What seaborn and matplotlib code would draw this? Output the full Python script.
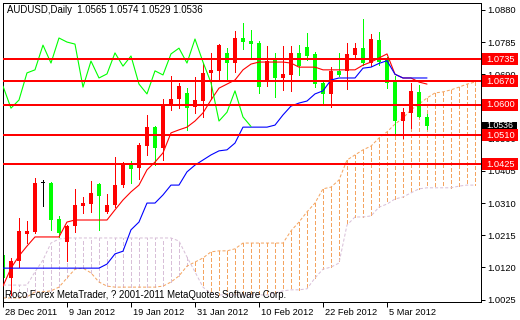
import numpy as np
import matplotlib
matplotlib.use("Agg")
import matplotlib.pyplot as plt
import seaborn as sns
from matplotlib.patches import Rectangle
from matplotlib.transforms import blended_transform_factory, ScaledTranslation

sns.set_style("white")
plt.rcParams['font.family'] = ['Liberation Sans', 'DejaVu Sans']
plt.rcParams['lines.scale_dashes'] = False

# ---------------- data ----------------
x_tick_pos = [0, 8, 16, 24, 32, 40, 48]
x_tick_labels = ['28 Dec 2011', '9 Jan 2012', '19 Jan 2012', '31 Jan 2012',
                 '10 Feb 2012', '22 Feb 2012', '5 Mar 2012']
y_ticks = [1.0880, 1.0785, 1.0690, 1.0595, 1.0500, 1.0405, 1.0310, 1.0215, 1.0120, 1.0025]
y_tick_labels = ['1.0880', '1.0785', '1.0690', '', '1.0500', '1.0405', '1.0310',
                 '1.0215', '1.0120', '1.0025']

open_ = [1.0157, 1.0089, 1.0139, 1.0219, 1.0225, 1.0370, 1.0370, 1.0263, 1.0195, 1.0242,
         1.0301, 1.0307, 1.0366, 1.0284, 1.0304, 1.0363, 1.0425, 1.0413, 1.0478, 1.0535,
         1.0473, 1.0599, 1.0617, 1.0635, 1.0593, 1.0611, 1.0694, 1.0700, 1.0753, 1.0723,
         1.0797, 1.0788, 1.0782, 1.0670, 1.0735, 1.0679, 1.0688, 1.0753, 1.0770, 1.0750,
         1.0665, 1.0632, 1.0700, 1.0700, 1.0747, 1.0767, 1.0723, 1.0791, 1.0738, 1.0667,
         1.0552, 1.0576, 1.0638, 1.0565]
high = [1.0201, 1.0148, 1.0266, 1.0257, 1.0384, 1.0378, 1.0372, 1.0272, 1.0245, 1.0351,
        1.0328, 1.0376, 1.0370, 1.0336, 1.0447, 1.0432, 1.0434, 1.0487, 1.0570, 1.0537,
        1.0617, 1.0685, 1.0665, 1.0649, 1.0681, 1.0723, 1.0753, 1.0779, 1.0767, 1.0818,
        1.0841, 1.0821, 1.0788, 1.0773, 1.0753, 1.0773, 1.0773, 1.0776, 1.0813, 1.0756,
        1.0670, 1.0712, 1.0753, 1.0782, 1.0782, 1.0853, 1.0809, 1.0815, 1.0741, 1.0685,
        1.0590, 1.0665, 1.0658, 1.0574]
low = [1.0074, 1.0039, 1.0121, 1.0192, 1.0222, 1.0300, 1.0231, 1.0210, 1.0139, 1.0225,
       1.0280, 1.0284, 1.0231, 1.0280, 1.0298, 1.0357, 1.0369, 1.0381, 1.0452, 1.0422,
       1.0437, 1.0585, 1.0590, 1.0526, 1.0576, 1.0564, 1.0617, 1.0673, 1.0676, 1.0697,
       1.0765, 1.0737, 1.0634, 1.0655, 1.0623, 1.0644, 1.0641, 1.0687, 1.0732, 1.0653,
       1.0605, 1.0594, 1.0685, 1.0646, 1.0738, 1.0717, 1.0714, 1.0717, 1.0650, 1.0517,
       1.0502, 1.0531, 1.0563, 1.0529]
close = [1.0089, 1.0139, 1.0228, 1.0228, 1.0370, 1.0370, 1.0260, 1.0222, 1.0242, 1.0304,
         1.0310, 1.0340, 1.0331, 1.0304, 1.0363, 1.0426, 1.0411, 1.0481, 1.0535, 1.0473,
         1.0599, 1.0617, 1.0655, 1.0590, 1.0614, 1.0694, 1.0703, 1.0776, 1.0723, 1.0797,
         1.0785, 1.0779, 1.0652, 1.0729, 1.0679, 1.0691, 1.0753, 1.0714, 1.0744, 1.0661,
         1.0632, 1.0700, 1.0688, 1.0750, 1.0767, 1.0723, 1.0794, 1.0726, 1.0665, 1.0552,
         1.0578, 1.0641, 1.0564, 1.0536]

tenkan = [1.0065, 1.0118, 1.0154, 1.0183, 1.0210, 1.0210, 1.0210, 1.0210, 1.0254, 1.0260,
          1.0260, 1.0260, 1.0260, 1.0260, 1.0290, 1.0319, 1.0343, 1.0363, 1.0408, 1.0431,
          1.0458, 1.0517, 1.0526, 1.0534, 1.0552, 1.0576, 1.0614, 1.0649, 1.0661, 1.0673,
          1.0703, 1.0720, 1.0726, 1.0726, 1.0726, 1.0726, 1.0723, 1.0711, 1.0711, 1.0711,
          1.0703, 1.0703, 1.0703, 1.0703, 1.0703, 1.0717, 1.0726, 1.0738, 1.0750, 1.0690,
          1.0679, 1.0679, 1.0667, 1.0661]
kijun = [1.0118, 1.0118, 1.0118, 1.0118, 1.0118, 1.0118, 1.0118, 1.0118, 1.0118, 1.0118,
         1.0118, 1.0118, 1.0118, 1.0130, 1.0160, 1.0168, 1.0231, 1.0254, 1.0310, 1.0310,
         1.0334, 1.0363, 1.0363, 1.0402, 1.0422, 1.0437, 1.0452, 1.0464, 1.0467, 1.0487,
         1.0534, 1.0534, 1.0534, 1.0534, 1.0540, 1.0570, 1.0596, 1.0605, 1.0611, 1.0632,
         1.0641, 1.0673, 1.0679, 1.0679, 1.0679, 1.0708, 1.0711, 1.0722, 1.0730, 1.0690,
         1.0679, 1.0679, 1.0679, 1.0679]
senkou_a = [1.0030, 1.0030, 1.0030, 1.0033, 1.0048, 1.0048, 1.0051, 1.0062, 1.0089, 1.0115,
            1.0118, 1.0104, 1.0077, 1.0065, 1.0062, 1.0062, 1.0062, 1.0062, 1.0062, 1.0062,
            1.0065, 1.0077, 1.0095, 1.0124, 1.0136, 1.0148, 1.0166, 1.0169, 1.0169, 1.0175,
            1.0192, 1.0192, 1.0192, 1.0192, 1.0192, 1.0192, 1.0228, 1.0254, 1.0284, 1.0310,
            1.0352, 1.0357, 1.0378, 1.0437, 1.0452, 1.0467, 1.0478, 1.0502, 1.0520, 1.0543,
            1.0561, 1.0585, 1.0602, 1.0620, 1.0635, 1.0638, 1.0644, 1.0652, 1.0661, 1.0667]
senkou_b = [1.0068, 1.0068, 1.0068, 1.0068, 1.0107, 1.0142, 1.0192, 1.0204, 1.0207, 1.0207,
            1.0207, 1.0207, 1.0207, 1.0207, 1.0207, 1.0207, 1.0207, 1.0207, 1.0207, 1.0207,
            1.0207, 1.0207, 1.0198, 1.0151, 1.0107, 1.0062, 1.0042, 1.0039, 1.0039, 1.0039,
            1.0039, 1.0039, 1.0039, 1.0039, 1.0045, 1.0051, 1.0054, 1.0054, 1.0057, 1.0089,
            1.0115, 1.0121, 1.0133, 1.0245, 1.0269, 1.0269, 1.0272, 1.0298, 1.0307, 1.0322,
            1.0328, 1.0340, 1.0352, 1.0355, 1.0355, 1.0355, 1.0355, 1.0360, 1.0363, 1.0363]
chikou_shift = 22

levels = [1.0735, 1.0670, 1.0600, 1.0510, 1.0425]
last_price = 1.0536
title_text = "AUDUSD,Daily  1.0565 1.0574 1.0529 1.0536"
footer_text = "Roco Forex MetaTrader, ? 2001-2011 MetaQuotes Software Corp."

# ---------------- figure ----------------
W, H = 520, 320
fig = plt.figure(figsize=(W / 100, H / 100), dpi=100)
fig.patch.set_facecolor('white')
ax_l, ax_r, ax_t, ax_b = 2.5, 481.0, 2.5, 302.0
ax = fig.add_axes([ax_l / W, 1 - ax_b / H, (ax_r - ax_l) / W, (ax_b - ax_t) / H])
ax.set_facecolor('white')

o = np.array(open_); h = np.array(high); l = np.array(low); c = np.array(close)
idx = np.arange(len(o))
cidx = np.arange(len(senkou_a))
sa = np.array(senkou_a); sb = np.array(senkou_b)

RED, LIME, BLUE = '#FF0000', '#00FF00', '#0000FF'
ORANGE, THISTLE = '#F4A460', '#D8BFD8'
px = 0.72
thin = 0.5
dash = (0, (2.2, 1.45))

# cloud hatch (crisp 1px vertical dashed lines)
vcols = [ORANGE if a > b else THISTLE for a, b in zip(sa, sb)]
ax.vlines(cidx, sa, sb, colors=vcols, linestyles=[dash] * len(cidx), lw=thin,
          zorder=1, antialiased=False)
for yy, col in ((sa, ORANGE), (sb, THISTLE)):
    sns.lineplot(x=cidx, y=yy, color=col, lw=px, ax=ax, errorbar=None, zorder=1.2)
    ax.lines[-1].set_linestyle(dash)

# candles
ccols = [RED if cc > oo else (LIME if cc < oo else 'black') for oo, cc in zip(o, c)]
ax.vlines(idx, l, h, colors=ccols, lw=thin, zorder=2, antialiased=False)
body_h = np.maximum(np.abs(c - o), 0.0003)
ax.bar(idx, body_h, bottom=np.minimum(o, c), width=0.62, color=ccols, linewidth=0, zorder=2.5)

# ichimoku lines
for xx, yy, col in ((idx, tenkan, RED), (idx, kijun, BLUE),
                    (idx[:len(c) - chikou_shift], c[chikou_shift:], LIME)):
    sns.lineplot(x=xx, y=yy, color=col, lw=0.8, ax=ax, errorbar=None, zorder=3)

for lv in levels:
    ax.axhline(lv, color=RED, lw=1.44, zorder=4, antialiased=False)

ax.set_xlim(-0.06, 59.75)
ax.set_ylim(1.00181, 1.09017)

# axes styling
for s in ax.spines.values():
    s.set_color('black'); s.set_linewidth(px); s.set_visible(True)
ax.yaxis.tick_right()
ax.set_yticks(y_ticks)
ax.set_yticklabels(y_tick_labels)
ax.set_xticks(x_tick_pos)
ax.set_xticklabels(x_tick_labels)
ax.tick_params(axis='y', which='both', right=True, left=False, direction='out', length=3,
               width=px, pad=1.2, labelsize=6.7, colors='black')
ax.tick_params(axis='x', which='both', bottom=True, direction='out', length=3.5,
               width=px, pad=0.6, labelsize=6.7, colors='black')
off = ScaledTranslation(2 / 100, 0, fig.dpi_scale_trans)
for lab in ax.get_xticklabels():
    lab.set_horizontalalignment('left')
    lab.set_transform(lab.get_transform() + off)
ax.set_xlabel(''); ax.set_ylabel('')
ax.grid(False)

# right side price labels
bt = blended_transform_factory(ax.transAxes, ax.transData)
x0 = (481.7 - ax_l) / (ax_r - ax_l)
bw = (518.0 - 481.7) / (ax_r - ax_l)
tx = (486.0 - ax_l) / (ax_r - ax_l)
bh = 12 * 0.000295
ax.add_patch(Rectangle((x0, last_price - 0.4 * bh), bw * 0.96, 0.8 * bh,
                       transform=bt, facecolor='black', edgecolor='none', clip_on=False, zorder=5))
ax.text(tx, last_price + 0.0003, f"{last_price:.4f}", transform=bt, color='white', fontsize=6.3,
        ha='left', va='center', clip_on=False, zorder=6)
for lv in levels:
    ax.add_patch(Rectangle((x0, lv - bh / 2), bw, bh, transform=bt, facecolor=RED,
                           edgecolor='none', clip_on=False, zorder=5))
    ax.text(tx, lv, f"{lv:.4f}", transform=bt, color='white', fontsize=6.7,
            ha='left', va='center', clip_on=False, zorder=6)

fig.text(7 / W, 1 - 10 / H, title_text, fontsize=6.9, color='black', ha='left', va='center')
fig.text(5 / W, 1 - 295 / H, footer_text, fontsize=6.9, color='black', ha='left', va='center')

fig.savefig('out.png', dpi=100, facecolor='white')
